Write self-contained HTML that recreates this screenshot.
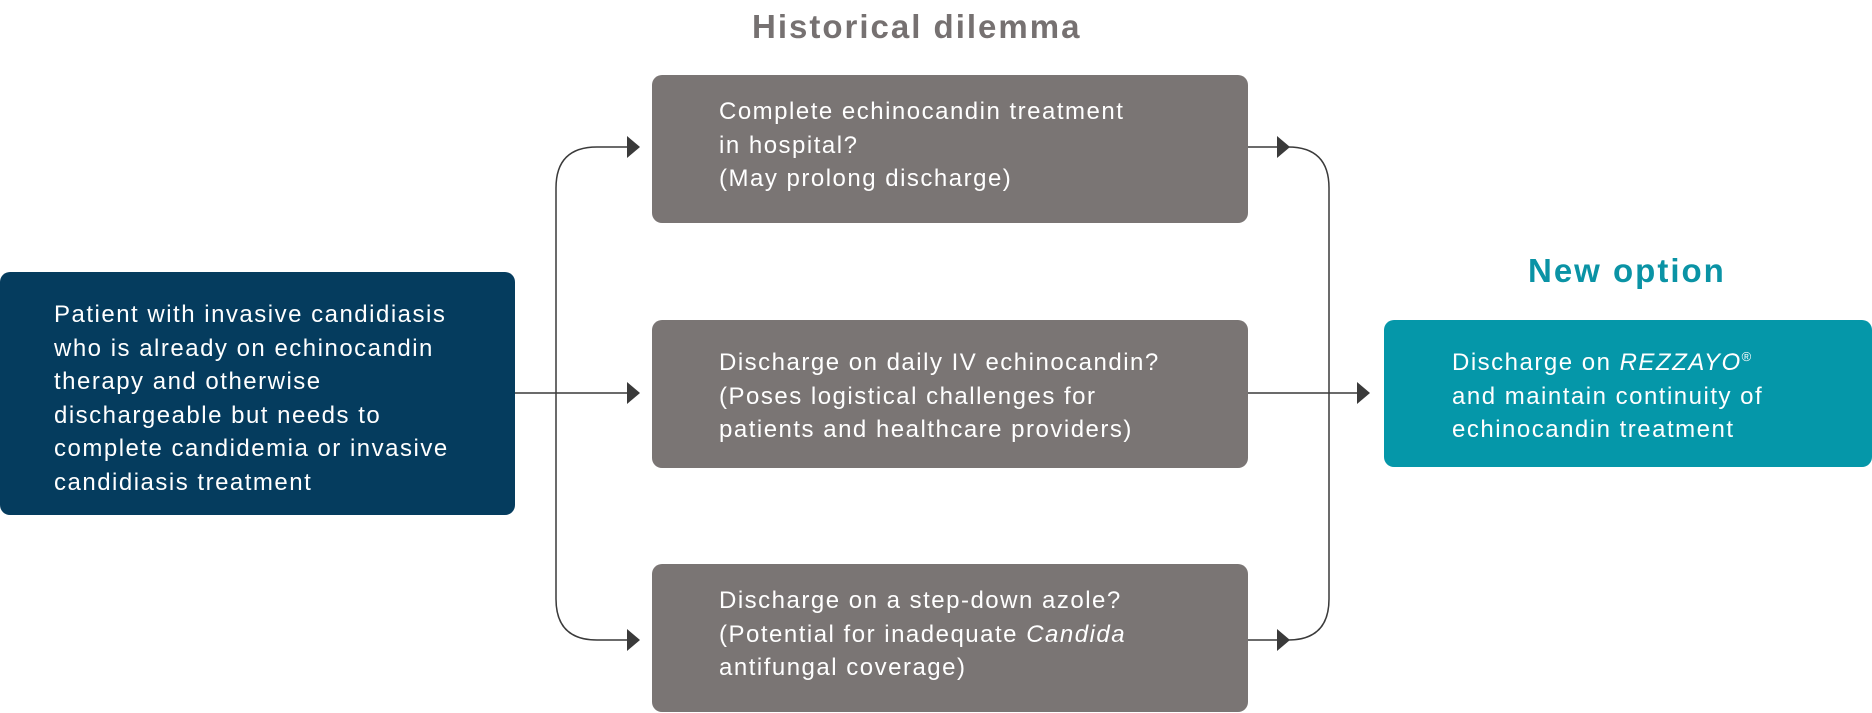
<!DOCTYPE html>
<html><head><meta charset="utf-8"><style>
html,body{margin:0;padding:0;background:#fff;}
body{width:1872px;height:713px;position:relative;overflow:hidden;font-family:"Liberation Sans",sans-serif;}
.box{position:absolute;border-radius:10px;color:#fff;font-size:24px;line-height:33.5px;letter-spacing:1.5px;box-sizing:border-box;white-space:nowrap;}
.g{background:#7a7574;left:652px;width:596px;height:148px;padding:20px 0 0 67px;}
.t{position:absolute;font-weight:bold;font-size:33px;letter-spacing:2px;white-space:nowrap;}
svg{position:absolute;left:0;top:0;}
</style></head><body>
<div class="t" style="left:752px;top:8px;color:#767171;">Historical dilemma</div>
<div class="t" style="left:1528px;top:252px;color:#0a93a5;">New option</div>
<div class="box" style="background:#053c5e;left:0;top:272px;width:515px;height:243px;padding:26px 0 0 54px;">Patient with invasive candidiasis<br>who is already on echinocandin<br>therapy and otherwise<br>dischargeable but needs to<br>complete candidemia or invasive<br>candidiasis treatment</div>
<div class="box g" style="top:75px;">Complete echinocandin treatment<br>in hospital?<br>(May prolong discharge)</div>
<div class="box g" style="top:320px;padding-top:26px;">Discharge on daily IV echinocandin?<br>(Poses logistical challenges for<br>patients and healthcare providers)</div>
<div class="box g" style="top:564px;">Discharge on a step-down azole?<br>(Potential for inadequate <i>Candida</i><br>antifungal coverage)</div>
<div class="box" style="background:#0597a9;left:1384px;top:320px;width:488px;height:147px;padding:26px 0 0 68px;">Discharge on <i>REZZAYO</i><sup style="font-size:13px;line-height:0;">®</sup><br>and maintain continuity of<br>echinocandin treatment</div>
<svg width="1872" height="713">
<g fill="none" stroke="#3a3a3a" stroke-width="1.5">
<path d="M515 393 H628"/>
<path d="M628 147 H597 Q556 147 556 188 V599 Q556 640 597 640 H628"/>
<path d="M1248 147 H1288 Q1329 147 1329 188 V599 Q1329 640 1288 640 H1248"/>
<path d="M1248 393 H1358"/>
</g>
<g fill="#3a3a3a">
<polygon points="627,136 640,147 627,158"/>
<polygon points="627,382 640,393 627,404"/>
<polygon points="627,629 640,640 627,651"/>
<polygon points="1277,136 1290,147 1277,158"/>
<polygon points="1277,629 1290,640 1277,651"/>
<polygon points="1357,382 1370,393 1357,404"/>
</g>
</svg>
</body></html>
